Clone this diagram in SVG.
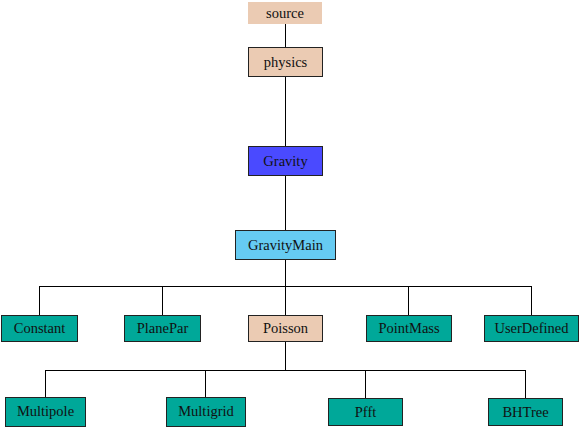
<svg xmlns="http://www.w3.org/2000/svg" width="581" height="428" viewBox="0 0 581 428">
<style>
rect{stroke:#222;stroke-width:1}
.tan{fill:#ebcbb3}
.teal{fill:#00a899}
text{font-family:'Liberation Serif','DejaVu Serif','Times New Roman',Times,serif;font-size:14.5px;text-anchor:middle;fill:#111}
.c{stroke:#000;stroke-width:1;fill:none}
</style>
<rect width="581" height="428" fill="#fff" style="stroke:none"/>
<g id="connectors">
<path class="c" d="M285.5 24V47M285.5 76V146M285.5 175V230M285.5 259V315M39.5 286.5H531.5M39.5 286V315M162.5 286V315M408.5 286V315M531.5 286V315"/>
<path class="c" d="M285.5 341V370.5M45.5 370.5H525.5M45.5 370V397M205.5 370V397M365.5 370V398M525.5 370V398"/>
</g>
<g font-family="Liberation Serif, DejaVu Serif, serif">
<g id="source"><rect class="tan" x="248" y="2" width="74" height="22" style="stroke:none"/><text x="285" y="17.5">source</text></g>
<g id="physics"><rect class="tan" x="248.5" y="47.5" width="74" height="29"/><text x="285.5" y="66.5">physics</text></g>
<g id="Gravity"><rect x="248.5" y="146.5" width="74" height="29" fill="#4a4aff"/><text x="285.5" y="165.5">Gravity</text></g>
<g id="GravityMain"><rect x="235.5" y="230.5" width="100" height="29" fill="#66cbf2"/><text x="285.5" y="249.5">GravityMain</text></g>
<g id="Constant"><rect class="teal" x="1.5" y="315.5" width="76" height="26"/><text x="39.5" y="333">Constant</text></g>
<g id="PlanePar"><rect class="teal" x="124.5" y="315.5" width="76" height="26"/><text x="162.5" y="333">PlanePar</text></g>
<g id="Poisson"><rect class="tan" x="248.5" y="315.5" width="74" height="26"/><text x="285.5" y="333">Poisson</text></g>
<g id="PointMass"><rect class="teal" x="366.5" y="315.5" width="85" height="26"/><text x="409" y="333">PointMass</text></g>
<g id="UserDefined"><rect class="teal" x="484.5" y="315.5" width="94" height="26"/><text x="531.5" y="333">UserDefined</text></g>
<g id="Multipole"><rect class="teal" x="5.5" y="397.5" width="80" height="29"/><text x="45.5" y="416">Multipole</text></g>
<g id="Multigrid"><rect class="teal" x="166.5" y="397.5" width="79" height="29"/><text x="206" y="416">Multigrid</text></g>
<g id="Pfft"><rect class="teal" x="328.5" y="398.5" width="74" height="27"/><text x="365.5" y="416.5">Pfft</text></g>
<g id="BHTree"><rect class="teal" x="488.5" y="398.5" width="74" height="27"/><text x="525.5" y="416.5">BHTree</text></g>
</g>
</svg>
